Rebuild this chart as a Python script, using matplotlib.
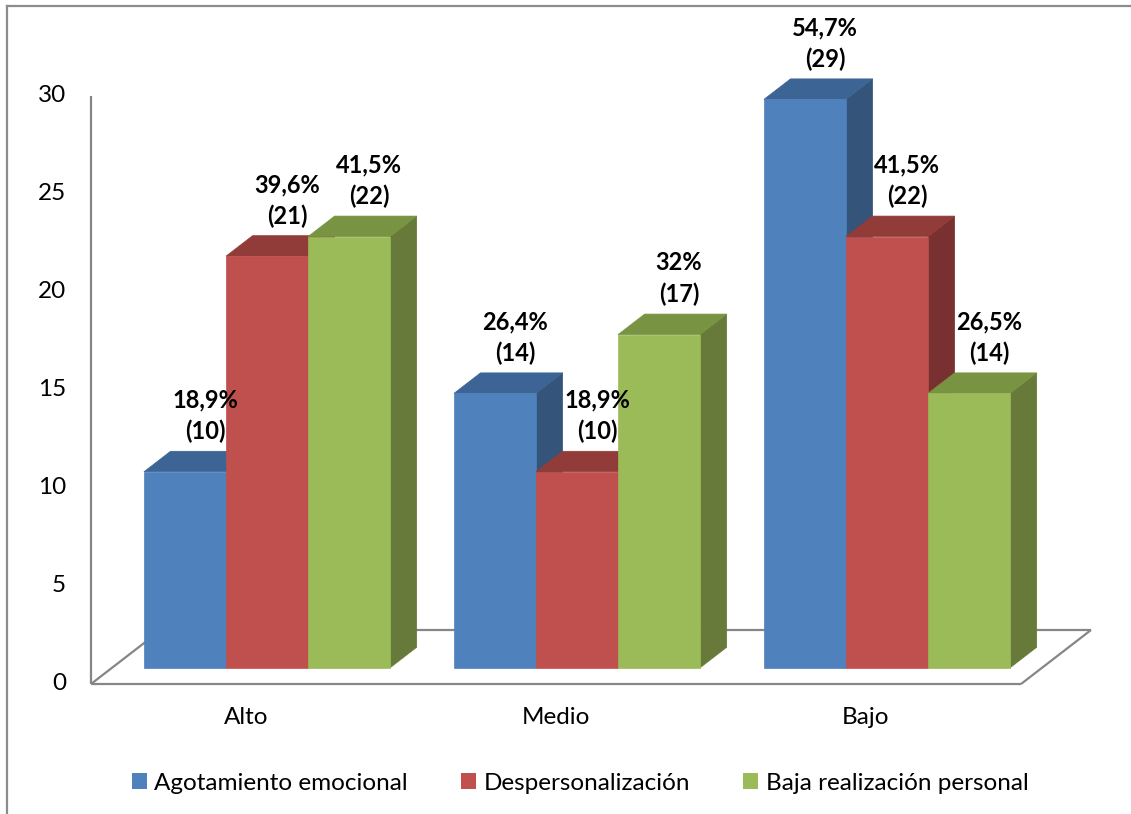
import matplotlib
matplotlib.use('Agg')
import matplotlib.pyplot as plt
from matplotlib.patches import Polygon, Patch
from matplotlib.lines import Line2D

# ---------------- data ----------------
categories = ['Alto', 'Medio', 'Bajo']
series_names = ['Agotamiento emocional', 'Despersonalización', 'Baja realización personal']
agotamiento = [10, 14, 29]
despersonalizacion = [21, 10, 22]
baja_realizacion = [22, 17, 14]
pct_agotamiento = ['18,9%', '26,4%', '54,7%']
pct_despersonalizacion = ['39,6%', '18,9%', '41,5%']
pct_baja_realizacion = ['41,5%', '32%', '26,5%']
yticks = [0, 5, 10, 15, 20, 25, 30]

values = [agotamiento, despersonalizacion, baja_realizacion]
pcts = [pct_agotamiento, pct_despersonalizacion, pct_baja_realizacion]

# face colours: front, top, side
colors = [
    ('#4F81BD', '#3C6494', '#345479'),
    ('#C0504D', '#923C3A', '#783130'),
    ('#9BBB59', '#789341', '#677A3A'),
]

FONT = ['Lato', 'DejaVu Sans']
plt.rcParams['font.family'] = FONT
FS = 17.5

W, H = 1131, 814
fig = plt.figure(figsize=(W / 100, H / 100), dpi=100)
ax = fig.add_axes([0, 0, 1, 1])
ax.axis('off')

# pixel scale of the plot
X0_PX, Y0_PX = 91, 684      # origin of the floor front edge
XU, YU = 310.0, 19.6         # pixels per category / per value unit
ax.set_xlim(-X0_PX / XU, (W - X0_PX) / XU)
ax.set_ylim((Y0_PX - H) / YU, Y0_PX / YU)

ncat = len(categories)
# depth vector of the floor (data units)
ddx, ddy = 70 / XU, 54 / YU
t_front, t_back = 0.30, 0.68
bdx, bdy = (t_back - t_front) * ddx, (t_back - t_front) * ddy
gap = 0.103
bw = (1 - 2 * gap) / 3

gray = '#868686'
# floor (behind the bars)
floor_kw = dict(color=gray, lw=1.6, solid_capstyle='butt', zorder=0.5)
ax.plot([0, ncat], [0, 0], **floor_kw)
ax.plot([ddx, ncat + ddx], [ddy, ddy], **floor_kw)
ax.plot([0, ddx], [0, ddy], **floor_kw)
ax.plot([ncat, ncat + ddx], [0, ddy], **floor_kw)
# vertical axis
ax.plot([0, 0], [0, max(yticks)], **floor_kw)

for t in yticks:
    ax.text(-25 / XU, t, str(t), ha='right', va='center', fontsize=FS, color='black')

for c, cat in enumerate(categories):
    ax.text(c + 0.5, -34 / YU, cat, ha='center', va='center', fontsize=FS, color='black')

base = t_front * ddy
for c in range(ncat):
    for s in range(3):
        v = values[s][c]
        x0 = c + t_front * ddx + gap + s * bw
        front_col, top_col, side_col = colors[s]
        top = base + v
        side = Polygon([(x0 + bw, base), (x0 + bw + bdx, base + bdy),
                        (x0 + bw + bdx, top + bdy), (x0 + bw, top)],
                       closed=True, facecolor=side_col, edgecolor=side_col, lw=0.5, zorder=1)
        topf = Polygon([(x0, top), (x0 + bw, top), (x0 + bw + bdx, top + bdy),
                        (x0 + bdx, top + bdy)],
                       closed=True, facecolor=top_col, edgecolor=top_col, lw=0.5, zorder=1)
        front = Polygon([(x0, base), (x0 + bw, base), (x0 + bw, top), (x0, top)],
                        closed=True, facecolor=front_col, edgecolor=front_col, lw=0.5, zorder=1)
        for p in (side, topf, front):
            ax.add_patch(p)
        ax.text(x0 + bw / 2 + 20 / XU, top + bdy + 8 / YU,
                f'{pcts[s][c]}\n({v})', ha='center', va='bottom',
                fontsize=17, fontweight='bold', linespacing=1.42, color='black', zorder=3)

# outer border (top and left visible)
fig.add_artist(Line2D([7 / W, 7 / W], [0, 1 - 6 / H], transform=fig.transFigure,
                      color='#8C8C8C', lw=1.6))
fig.add_artist(Line2D([7 / W, 1], [1 - 6 / H, 1 - 6 / H], transform=fig.transFigure,
                      color='#8C8C8C', lw=1.6))

handles = [Patch(facecolor=colors[i][0], edgecolor='none') for i in range(3)]
fig.legend(handles, series_names, loc='center', bbox_to_anchor=(580 / W, 1 - 783 / H),
           ncol=3, frameon=False, fontsize=FS, handlelength=0.62, handleheight=0.62,
           handletextpad=0.3, columnspacing=2.2, borderaxespad=0)

fig.savefig('out.png', dpi=100)
